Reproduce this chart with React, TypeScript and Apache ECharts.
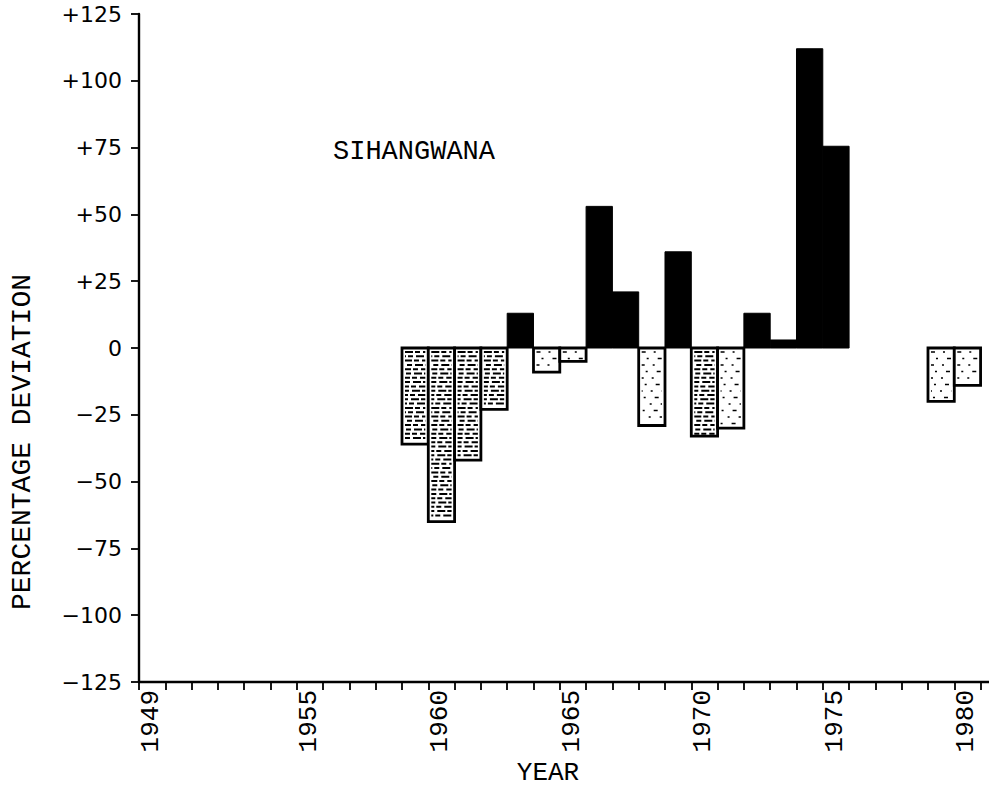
import React, { useEffect, useRef } from "react";
import * as echarts from "echarts";

// Annual percentage deviation, Sihangwana station
const stationName = "SIHANGWANA";
const years = [1959, 1960, 1961, 1962, 1963, 1964, 1965, 1966, 1967, 1968, 1969, 1970, 1971, 1972, 1973, 1974, 1975, 1979, 1980];
const deviation = [-36, -65, -42, -23, 13, -9, -5, 53, 21, -29, 36, -33, -30, 13, 3, 112, 75.5, -20, -14];

// Axis ticks and labels
const yearTicks = [1949, 1950, 1951, 1952, 1953, 1954, 1955, 1956, 1957, 1958, 1959, 1960, 1961, 1962, 1963, 1964, 1965, 1966, 1967, 1968, 1969, 1970, 1971, 1972, 1973, 1974, 1975, 1976, 1977, 1978, 1979, 1980, 1981];
const labelledYears = [1949, 1955, 1960, 1965, 1970, 1975, 1980];
const yMin = -125;
const yMax = 125;
const yStep = 25;

const xTitle = "YEAR";
const yTitle = "PERCENTAGE DEVIATION";

// years drawn with the heavier hatch texture
const denseHatch = [1959, 1960, 1961, 1962, 1970];

const MONO = '"Liberation Mono", "DejaVu Sans Mono", monospace';
const SANS = '"DejaVu Sans", "Liberation Sans", sans-serif';

export default function App() {
  const ref = useRef<HTMLDivElement>(null);

  useEffect(() => {
    if (!ref.current) return;
    const chart = echarts.init(ref.current, null, { renderer: "svg" });

    const renderItem = (_params: any, api: any) => {
      const year = api.value(0);
      const v = api.value(1);
      const a = api.coord([year, 0]);
      const b = api.coord([year + 1, v]);
      const x = a[0];
      const w = b[0] - a[0];
      const top = Math.min(a[1], b[1]);
      const h = Math.abs(b[1] - a[1]);
      if (v >= 0) {
        return {
          type: "rect",
          shape: { x, y: top, width: w, height: h },
          style: { fill: "#000", stroke: "#000", lineWidth: 1 },
        };
      }
      const dense = denseHatch.indexOf(year) >= 0;
      const children: any[] = [
        {
          type: "rect",
          shape: { x, y: top, width: w, height: h },
          style: { fill: "#fff", stroke: "#000", lineWidth: 2.8 },
        },
      ];
      const step = dense ? 4.3 : 6.5;
      let row = 0;
      for (let yy = top + 4; yy < top + h - 2; yy += step, row++) {
        children.push({
          type: "line",
          shape: { x1: x + 3, y1: yy, x2: x + w - 3, y2: yy },
          style: {
            stroke: "#000",
            lineWidth: dense ? 2 : 1.4,
            lineDash: dense ? [8, 2, 5, 3] : [4, 8, 2, 9],
            lineDashOffset: (row * 7) % 13,
          },
        });
      }
      return { type: "group", children };
    };

    chart.setOption({
      animation: false,
      backgroundColor: "#fff",
      grid: { left: 139, right: 0, top: 14, bottom: 107 },
      xAxis: {
        type: "value",
        min: 1949,
        max: 1981.32,
        splitLine: { show: false },
        axisLine: { onZero: false, lineStyle: { color: "#000", width: 2.4 } },
        axisTick: {
          customValues: yearTicks,
          length: 8,
          lineStyle: { color: "#000", width: 1.8 },
        },
        axisLabel: {
          customValues: labelledYears.map((y) => y + 0.45),
          formatter: (val: number) => String(Math.floor(val)),
          rotate: 90,
          margin: 8,
          color: "#000",
          fontFamily: MONO,
          fontSize: 26,
        },
      },
      yAxis: {
        type: "value",
        min: yMin,
        max: yMax,
        interval: yStep,
        splitLine: { show: false },
        axisLine: { show: true, lineStyle: { color: "#000", width: 2.4 } },
        axisTick: { show: true, length: 8, lineStyle: { color: "#000", width: 1.8 } },
        axisLabel: {
          margin: 17,
          color: "#000",
          fontFamily: SANS,
          fontSize: 22,
          formatter: (val: number) => (val > 0 ? "+" + val : val < 0 ? "\u2212" + Math.abs(val) : "0"),
        },
      },
      series: [
        {
          type: "custom",
          renderItem,
          clip: false,
          encode: { x: 0, y: 1 },
          data: years.map((y, i) => [y, deviation[i]]),
        },
      ],
      graphic: [
        {
          type: "text",
          x: 333,
          y: 152,
          style: { text: stationName, fill: "#000", font: `27px ${MONO}`, verticalAlign: "middle" },
        },
        {
          type: "text",
          x: 548,
          y: 773,
          style: { text: xTitle, fill: "#000", font: `26px ${MONO}`, align: "center", verticalAlign: "middle" },
        },
        {
          type: "text",
          x: 22,
          y: 442,
          rotation: Math.PI / 2,
          style: { text: yTitle, fill: "#000", font: `28px ${MONO}`, align: "center", verticalAlign: "middle" },
        },
      ],
    });

    return () => chart.dispose();
  }, []);

  return <div ref={ref} style={{ position: "fixed", left: 0, top: 0, width: 989, height: 789 }} />;
}
